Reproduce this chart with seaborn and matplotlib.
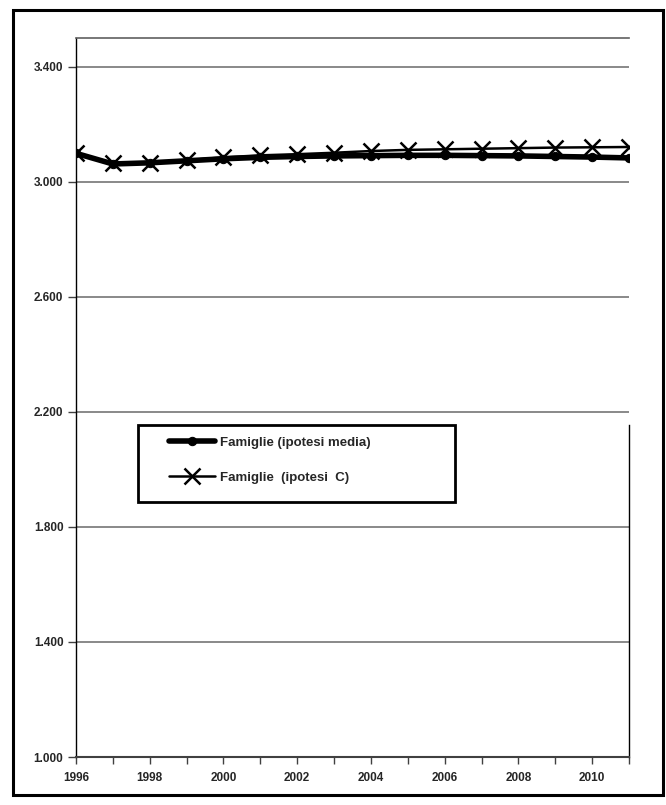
import matplotlib
matplotlib.use("Agg")
import pandas as pd
import seaborn as sns
import matplotlib.pyplot as plt
from matplotlib.patches import Rectangle
from matplotlib.ticker import FuncFormatter, MultipleLocator, FixedLocator

# dati (migliaia di famiglie)
years = list(range(1996, 2012))
famiglie_media = [3099, 3062, 3066, 3073, 3080, 3085, 3088, 3090,
                  3091, 3092, 3092, 3091, 3090, 3088, 3086, 3083]
famiglie_c = [3099, 3064, 3067, 3075, 3085, 3092, 3096, 3101,
              3107, 3111, 3113, 3115, 3117, 3119, 3120, 3121]
y_ticks = [1000, 1400, 1800, 2200, 2600, 3000, 3400]
x_ticks = [1996, 1998, 2000, 2002, 2004, 2006, 2008, 2010]
label_media = "Famiglie (ipotesi media)"
label_c = "Famiglie  (ipotesi  C)"

sns.set_style("white")
plt.rcParams['font.family'] = ['Liberation Sans', 'DejaVu Sans']
plt.rcParams['font.weight'] = 'bold'

df = pd.DataFrame({"anno": years, "media": famiglie_media, "c": famiglie_c})

fig = plt.figure(figsize=(6.66, 8.05), dpi=100)
ax = fig.add_axes([0.1141, 0.0596, 0.8303, 0.8932])

sns.lineplot(data=df, x="anno", y="media", ax=ax, color="black", lw=4,
             marker="o", markersize=6, markeredgecolor="black",
             label=label_media, zorder=3)
sns.lineplot(data=df, x="anno", y="c", ax=ax, color="black", lw=1.8,
             marker="x", markersize=11, markeredgewidth=1.8,
             markeredgecolor="black", label=label_c, zorder=4)

ax.set_xlim(1996, 2011)
ax.set_ylim(1000, 3500)
ax.yaxis.set_major_locator(FixedLocator(y_ticks))
ax.yaxis.set_major_formatter(FuncFormatter(lambda v, p: f"{int(v):,}".replace(",", ".")))
ax.xaxis.set_major_locator(FixedLocator(x_ticks))
ax.xaxis.set_minor_locator(MultipleLocator(1))
ax.grid(axis="y", color="#808080", lw=1.3)
ax.set_axisbelow(True)

ax.tick_params(axis="y", which="major", direction="out", length=6, width=1,
               color="#404040", labelsize=8.5, pad=3, left=True)
ax.tick_params(axis="x", which="both", direction="out", length=5, width=1,
               color="#404040", labelsize=8.5, pad=6, bottom=True)
for lab in ax.get_xticklabels() + ax.get_yticklabels():
    lab.set_fontweight("bold")

ax.set_xlabel("")
ax.set_ylabel("")

ax.spines["left"].set_color("black")
ax.spines["left"].set_linewidth(1)
ax.spines["bottom"].set_color("#404040")
ax.spines["bottom"].set_linewidth(1.5)
ax.spines["top"].set_color("#606060")
ax.spines["top"].set_linewidth(1.2)
ax.spines["right"].set_color("black")
ax.spines["right"].set_linewidth(1)
ax.spines["right"].set_bounds(1000, 2155)

# riquadro della legenda
ax.add_patch(Rectangle((0.112, 0.3547), 0.573, 0.107, transform=ax.transAxes,
                       facecolor="white", edgecolor="black", lw=2, zorder=5))
leg = ax.legend(loc="upper left", bbox_to_anchor=(0.168, 0.446), frameon=False,
                fontsize=9.5, handlelength=3.5, handletextpad=0.35,
                labelspacing=1.75, borderaxespad=0, borderpad=0)
leg.set_zorder(6)
for t in leg.get_texts():
    t.set_fontweight("bold")

# cornice esterna
fig.patches.append(Rectangle((0.0195, 0.012), 0.976, 0.9756, transform=fig.transFigure,
                             fill=False, edgecolor="black", lw=2.2))

plt.savefig("out.png", dpi=100)
